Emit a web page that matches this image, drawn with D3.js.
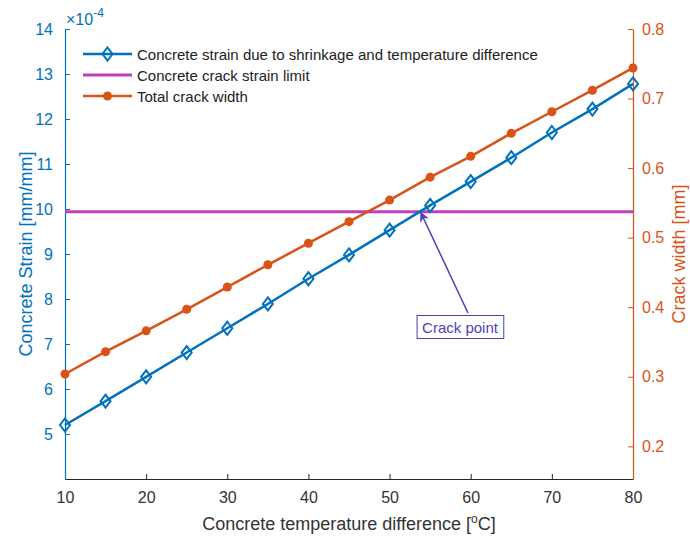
<!DOCTYPE html>
<html><head><meta charset="utf-8">
<script src="https://cdn.jsdelivr.net/npm/d3@7"></script>
<style>body{margin:0;background:#fff}svg{display:block}text{font-family:"Liberation Sans",Arial,sans-serif}</style>
</head><body>
<script>
const temps = [10,15,20,25,30,35,40,45,50,55,60,65,70,75,80];
const strainE4 = [5.20,5.73,6.27,6.81,7.35,7.89,8.45,8.98,9.53,10.08,10.61,11.14,11.70,12.22,12.78];
const crackLimitE4 = 9.94;
const crackWidth = [0.304,0.336,0.366,0.397,0.429,0.461,0.492,0.523,0.554,0.587,0.617,0.650,0.681,0.712,0.744];
const xTicks = [10,20,30,40,50,60,70,80];
const leftTicks = [5,6,7,8,9,10,11,12,13,14];
const rightTicks = [0.2,0.3,0.4,0.5,0.6,0.7,0.8];
const legendLabels = ["Concrete strain due to shrinkage and temperature difference","Concrete crack strain limit","Total crack width"];
const annotationText = "Crack point";
const annotationPoint = [53.8, 9.94];

const W=690,H=540, L=65, R=633, T=29, B=479;
const cBlue="#0072BD", cOrange="#D95319", cMag="#BF3FBF", cAnn="#4B3FC0", cAx="#262626";

const svg=d3.select("body").append("svg").attr("width",W).attr("height",H);
const x=d3.scaleLinear().domain([10,80]).range([L,R]);
const yL=d3.scaleLinear().domain([4,14]).range([B,T]);
const yR=d3.scaleLinear().domain([0.153,0.8]).range([B,T]);

// axes
const gx=svg.append("g").attr("transform",`translate(0,${B})`)
  .call(d3.axisBottom(x).tickValues(xTicks).tickSizeInner(-5).tickSizeOuter(0).tickPadding(12));
gx.select(".domain").attr("stroke",cAx).attr("stroke-width",1);
gx.selectAll(".tick line").attr("stroke",cAx);
gx.selectAll("text").attr("fill","#333").style("font-size","16px").attr("dy","0.75em");

const gl=svg.append("g").attr("transform",`translate(${L},0)`)
  .call(d3.axisLeft(yL).tickValues(leftTicks).tickSizeInner(-5).tickSizeOuter(0).tickPadding(12).tickFormat(d3.format("d")));
gl.select(".domain").attr("stroke",cBlue).attr("stroke-width",1.2);
gl.selectAll(".tick line").attr("stroke",cBlue);
gl.selectAll("text").attr("fill",cBlue).style("font-size","16px");

const gr=svg.append("g").attr("transform",`translate(${R},0)`)
  .call(d3.axisRight(yR).tickValues(rightTicks).tickSizeInner(-5).tickSizeOuter(0).tickPadding(9).tickFormat(d3.format(".1f")));
gr.select(".domain").attr("stroke",cOrange).attr("stroke-width",1.2);
gr.selectAll(".tick line").attr("stroke",cOrange);
gr.selectAll("text").attr("fill",cOrange).style("font-size","16px");

// exponent
const ex=svg.append("text").attr("x",L+1).attr("y",T-4).attr("fill",cBlue).style("font-size","16px");
ex.append("tspan").text("\u00d710");
ex.append("tspan").attr("dy",-8).style("font-size","12px").text("-4");

// labels
svg.append("text").attr("transform",`translate(26,${(T+B)/2}) rotate(-90)`).attr("text-anchor","middle")
  .attr("dominant-baseline","central").attr("fill",cBlue).style("font-size","18px").text("Concrete Strain [mm/mm]");
svg.append("text").attr("transform",`translate(679,${(T+B)/2}) rotate(-90)`).attr("text-anchor","middle")
  .attr("dominant-baseline","central").attr("fill",cOrange).style("font-size","18px").text("Crack width [mm]");
const xl=svg.append("text").attr("x",(L+R)/2).attr("y",530).attr("text-anchor","middle").attr("fill","#333").style("font-size","18px");
xl.append("tspan").text("Concrete temperature difference [");
xl.append("tspan").attr("dy",-7).style("font-size","12px").text("o");
xl.append("tspan").attr("dy",7).text("C]");

// limit line
svg.append("line").attr("x1",x(10)).attr("x2",x(80)).attr("y1",yL(crackLimitE4)).attr("y2",yL(crackLimitE4))
  .attr("stroke",cMag).attr("stroke-width",3);

// orange series
svg.append("path").datum(temps.map((t,i)=>[t,crackWidth[i]]))
  .attr("d",d3.line().x(d=>x(d[0])).y(d=>yR(d[1]))).attr("fill","none").attr("stroke",cOrange).attr("stroke-width",2.5);
svg.selectAll(".oc").data(temps.map((t,i)=>[t,crackWidth[i]])).join("circle")
  .attr("cx",d=>x(d[0])).attr("cy",d=>yR(d[1])).attr("r",4.5).attr("fill",cOrange);

// blue series
svg.append("path").datum(temps.map((t,i)=>[t,strainE4[i]]))
  .attr("d",d3.line().x(d=>x(d[0])).y(d=>yL(d[1]))).attr("fill","none").attr("stroke",cBlue).attr("stroke-width",2.5);
const diamond=(cx,cy)=>`M${cx},${cy-6.5}L${cx+5},${cy}L${cx},${cy+6.5}L${cx-5},${cy}Z`;
svg.selectAll(".bd").data(temps.map((t,i)=>[t,strainE4[i]])).join("path")
  .attr("d",d=>diamond(x(d[0]),yL(d[1]))).attr("fill","none").attr("stroke",cBlue).attr("stroke-width",2);

// legend
const lg=svg.append("g");
const ly=[54,75,96];
legendLabels.forEach((lab,i)=>{
  const col=[cBlue,cMag,cOrange][i];
  lg.append("line").attr("x1",83).attr("x2",132).attr("y1",ly[i]).attr("y2",ly[i]).attr("stroke",col).attr("stroke-width",i==1?3:2.5);
  if(i==0) lg.append("path").attr("d",diamond(107.5,ly[i])).attr("fill","none").attr("stroke",col).attr("stroke-width",2);
  if(i==2) lg.append("circle").attr("cx",107.5).attr("cy",ly[i]).attr("r",4.5).attr("fill",col);
  lg.append("text").attr("x",137).attr("y",ly[i]).attr("dominant-baseline","central").attr("fill","#222").style("font-size","15px").text(lab);
});

// annotation
const tip=[x(annotationPoint[0]),yL(annotationPoint[1])];
const tail=[468,313];
svg.append("defs").append("marker").attr("id","ah").attr("viewBox","0 0 10 10").attr("refX",10).attr("refY",5)
  .attr("markerWidth",10).attr("markerHeight",10).attr("markerUnits","userSpaceOnUse").attr("orient","auto")
  .append("path").attr("d","M0,0L10,5L0,10L3,5Z").attr("fill",cAnn);
svg.append("line").attr("x1",tail[0]).attr("y1",tail[1]).attr("x2",tip[0]).attr("y2",tip[1])
  .attr("stroke",cAnn).attr("stroke-width",1.5).attr("marker-end","url(#ah)");
const at=svg.append("text").attr("x",tail[0]-8).attr("y",tail[1]+14).attr("text-anchor","middle").attr("dominant-baseline","central")
  .attr("fill",cAnn).style("font-size","15px").text(annotationText);
const bb=at.node().getBBox();
svg.append("rect").attr("x",bb.x-5).attr("y",bb.y-3).attr("width",bb.width+10).attr("height",bb.height+6)
  .attr("fill","none").attr("stroke",cAnn).attr("stroke-width",1);
</script>
</body></html>
